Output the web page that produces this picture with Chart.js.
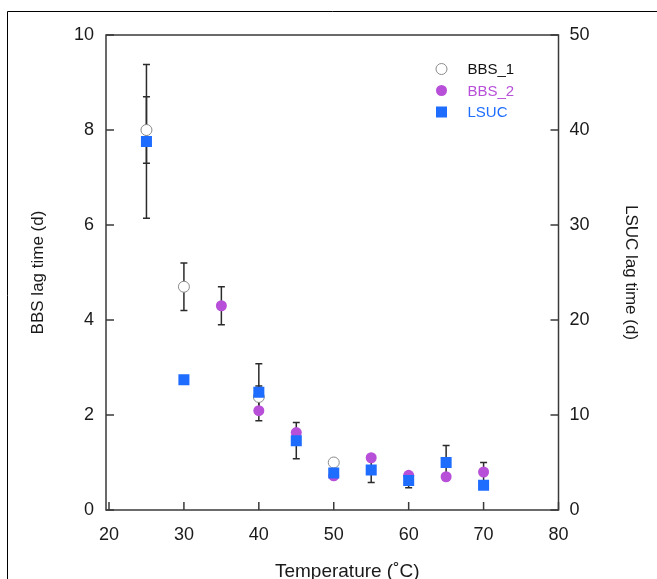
<!DOCTYPE html>
<html>
<head>
<meta charset="utf-8">
<script src="https://cdn.jsdelivr.net/npm/chart.js@4"></script>
<style>
html, body { margin: 0; padding: 0; background: #fff; }
#wrap { width: 657px; height: 579px; position: relative; }
</style>
</head>
<body>
<div id="wrap"><canvas id="lagChart"></canvas></div>
<script>
// temperatures (°C) and lag times
const temps = [25, 30, 35, 40, 45, 50, 55, 60, 65, 70];
const bbs1 = [8.0, 4.7, null, 2.38, null, 1.0, null, null, null, null];
const bbs1Err = [0.7, 0.5, null, 0.23, null, 0.05, null, null, null, null];
const bbs2 = [null, null, 4.3, 2.09, 1.63, 0.72, 1.1, 0.73, 0.7, 0.8];
const bbs2Err = [null, null, 0.4, null, null, null, null, null, null, 0.2];
const lsuc = [38.8, 13.7, null, 12.4, 7.3, 3.9, 4.2, 3.1, 5.0, 2.6];
const lsucErr = [8.1, null, null, 3.0, 1.9, null, 1.3, 0.75, 1.8, null];

const xTicks = [20, 30, 40, 50, 60, 70, 80];
const leftTicks = [0, 2, 4, 6, 8, 10];
const rightTicks = [0, 10, 20, 30, 40, 50];
const xTitle = 'Temperature (˚C)';

const FONT = '"Liberation Sans", Arial, sans-serif';
const PURPLE = '#b84fd8';
const BLUE = '#1f6dff';
const AXIS = '#3a3a3a';
const TEXT = '#1a1a1a';

function toPoints(vals) {
  return temps.map((t, i) => ({ x: t, y: vals[i] })).filter(p => p.y != null);
}
function toErrs(vals, errs) {
  return temps.map((t, i) => ({ x: t, y: vals[i], e: errs[i] })).filter(p => p.y != null);
}

const decorations = {
  id: 'decorations',
  beforeDatasetsDraw(chart) {
    const { ctx, scales } = chart;
    ctx.save();
    ctx.strokeStyle = '#2b2b2b';
    ctx.lineWidth = 1.5;
    chart.data.datasets.forEach(ds => {
      const ys = scales[ds.yAxisID];
      ds.errs.forEach(p => {
        if (p.e == null) return;
        const px = scales.x.getPixelForValue(p.x);
        const top = ys.getPixelForValue(p.y + p.e);
        const bot = ys.getPixelForValue(p.y - p.e);
        ctx.beginPath();
        ctx.moveTo(px, top); ctx.lineTo(px, bot);
        ctx.moveTo(px - 3.5, top); ctx.lineTo(px + 3.5, top);
        ctx.moveTo(px - 3.5, bot); ctx.lineTo(px + 3.5, bot);
        ctx.stroke();
      });
    });
    ctx.restore();
  },
  afterDraw(chart) {
    const { ctx, chartArea: a, scales } = chart;
    ctx.save();
    // outer frame of the figure panel
    ctx.strokeStyle = '#000';
    ctx.lineWidth = 1;
    ctx.beginPath();
    ctx.moveTo(7.5, chart.height);
    ctx.lineTo(7.5, 11.5);
    ctx.lineTo(chart.width, 11.5);
    ctx.stroke();

    // plot box and inward ticks
    ctx.strokeStyle = AXIS;
    ctx.lineWidth = 1.5;
    ctx.strokeRect(a.left, a.top, a.right - a.left, a.bottom - a.top);
    ctx.beginPath();
    xTicks.forEach(v => {
      const px = scales.x.getPixelForValue(v);
      ctx.moveTo(px, a.bottom); ctx.lineTo(px, a.bottom - 8);
    });
    leftTicks.forEach(v => {
      const py = scales.y.getPixelForValue(v);
      ctx.moveTo(a.left, py); ctx.lineTo(a.left + 8, py);
    });
    rightTicks.forEach(v => {
      const py = scales.y2.getPixelForValue(v);
      ctx.moveTo(a.right, py); ctx.lineTo(a.right - 8, py);
    });
    ctx.stroke();

    // x axis title, sits a little right of the axis centre in the original
    ctx.fillStyle = TEXT;
    ctx.font = '19px ' + FONT;
    ctx.textAlign = 'center';
    ctx.textBaseline = 'middle';
    ctx.fillText(xTitle, (a.left + a.right) / 2 + 15, a.bottom + 62);

    // legend inside the plot, top right
    const lx = a.right - 117;
    const tx = a.right - 91;
    let ly = a.top + 34;
    ctx.font = '15px ' + FONT;
    ctx.textAlign = 'left';
    chart.data.datasets.forEach(ds => {
      ctx.beginPath();
      if (ds.pointStyle === 'rect') {
        ctx.fillStyle = ds.backgroundColor;
        ctx.fillRect(lx - 5.5, ly - 5.5, 11, 11);
      } else {
        ctx.arc(lx, ly, ds.pointRadius, 0, Math.PI * 2);
        ctx.fillStyle = ds.backgroundColor;
        ctx.fill();
        if (ds.borderWidth) {
          ctx.lineWidth = ds.borderWidth;
          ctx.strokeStyle = ds.borderColor;
          ctx.stroke();
        }
      }
      ctx.fillStyle = ds.legendColor;
      ctx.fillText(ds.label, tx, ly + 1);
      ly += 21.5;
    });
    ctx.restore();
  }
};

new Chart(document.getElementById('lagChart'), {
  type: 'scatter',
  data: {
    datasets: [
      {
        label: 'BBS_1',
        data: toPoints(bbs1),
        errs: toErrs(bbs1, bbs1Err),
        yAxisID: 'y',
        pointStyle: 'circle',
        pointRadius: 5.5,
        backgroundColor: '#fff',
        borderColor: '#8a8a8a',
        borderWidth: 1,
        legendColor: '#111',
        order: 2
      },
      {
        label: 'BBS_2',
        data: toPoints(bbs2),
        errs: toErrs(bbs2, bbs2Err),
        yAxisID: 'y',
        pointStyle: 'circle',
        pointRadius: 5.5,
        backgroundColor: PURPLE,
        borderColor: PURPLE,
        borderWidth: 0,
        legendColor: PURPLE,
        order: 1
      },
      {
        label: 'LSUC',
        data: toPoints(lsuc),
        errs: toErrs(lsuc, lsucErr),
        yAxisID: 'y2',
        pointStyle: 'rect',
        pointRadius: 7.8,
        backgroundColor: BLUE,
        borderColor: BLUE,
        borderWidth: 0,
        legendColor: BLUE,
        order: 0
      }
    ]
  },
  options: {
    responsive: true,
    maintainAspectRatio: false,
    animation: false,
    layout: { padding: { top: 35, left: 0, right: 0, bottom: 0 } },
    plugins: {
      legend: { display: false },
      tooltip: { enabled: false }
    },
    scales: {
      x: {
        type: 'linear',
        min: 19.6,
        max: 80,
        afterBuildTicks: s => { s.ticks = xTicks.map(v => ({ value: v })); },
        afterFit: s => { s.height = 69; },
        grid: { display: false, drawTicks: false },
        border: { display: false },
        ticks: { color: TEXT, padding: 14, font: { family: FONT, size: 18 } }
      },
      y: {
        type: 'linear',
        position: 'left',
        min: 0,
        max: 10,
        afterBuildTicks: s => { s.ticks = leftTicks.map(v => ({ value: v })); },
        afterFit: s => { s.width = 106; },
        grid: { display: false, drawTicks: false },
        border: { display: false },
        ticks: { color: TEXT, padding: 12, font: { family: FONT, size: 18 } },
        title: {
          display: true,
          text: 'BBS lag time (d)',
          color: TEXT,
          font: { family: FONT, size: 17, lineHeight: 1.2 },
          padding: { top: 28, bottom: 0 }
        }
      },
      y2: {
        type: 'linear',
        position: 'right',
        min: 0,
        max: 50,
        afterBuildTicks: s => { s.ticks = rightTicks.map(v => ({ value: v })); },
        afterFit: s => { s.width = 98.5; },
        grid: { display: false, drawTicks: false },
        border: { display: false },
        ticks: { color: TEXT, padding: 11, font: { family: FONT, size: 18 } },
        title: {
          display: true,
          text: 'LSUC lag time (d)',
          color: TEXT,
          font: { family: FONT, size: 17, lineHeight: 1.2 },
          padding: { top: 16, bottom: 0 }
        }
      }
    }
  },
  plugins: [decorations]
});
</script>
</body>
</html>
